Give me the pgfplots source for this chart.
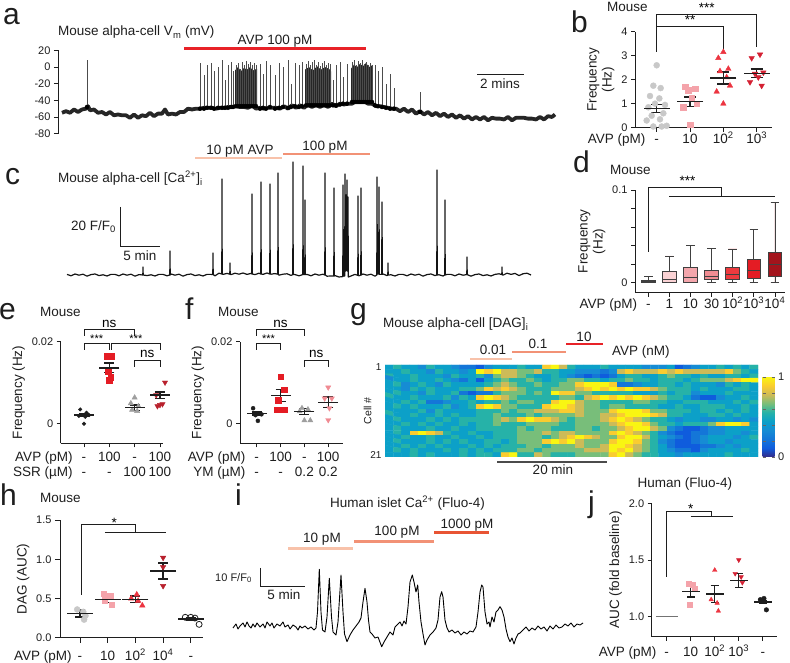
\documentclass[border=0pt]{standalone}
\usepackage{fontspec}
\setmainfont{Liberation Sans}
\usepackage{pgfplots}
\pgfplotsset{compat=1.18}
\usepgfplotslibrary{statistics}
\usetikzlibrary{calc}

\definecolor{ink}{HTML}{1E1E1E}
\definecolor{cgrey}{HTML}{C8C8C8}
\definecolor{cgreyd}{HTML}{9E9E9E}
\definecolor{cpink}{HTML}{F4A3AA}
\definecolor{cred}{HTML}{EC3440}
\definecolor{cdred}{HTML}{D42032}
\definecolor{cmaroon}{HTML}{B8202C}
\definecolor{clpink}{HTML}{F08A92}
\definecolor{avp}{HTML}{E82228}
\definecolor{bar1}{HTML}{F8C2AA}
\definecolor{bar2}{HTML}{F29276}
\definecolor{bar3}{HTML}{E85434}
\definecolor{bx0}{HTML}{6E6E6E}
\definecolor{bx1}{HTML}{FAD2D4}
\definecolor{bx2}{HTML}{F4A6AC}
\definecolor{bx3}{HTML}{F08C92}
\definecolor{bx4}{HTML}{EE3A3E}
\definecolor{bx5}{HTML}{E41C24}
\definecolor{bx6}{HTML}{A3141C}

\newcommand{\fT}{\fontsize{13.5}{15}\selectfont}
\newcommand{\fK}{\fontsize{11}{13}\selectfont}
\newcommand{\fS}{\fontsize{11}{13}\selectfont}
\newcommand{\fL}{\fontsize{30}{30}\selectfont}
\newcommand{\sq}[1]{\textsuperscript{#1}}

\pgfplotsset{
  every axis/.append style={/pgf/number format/assume math mode=true},
  dots/.style={scale only axis, anchor=south west, clip=false,
    axis x line*=bottom, axis y line*=left,
    axis line style={ink, line width=0.7pt},
    tick style={ink, line width=0.7pt},
    tick align=outside, major tick length=4pt, scaled y ticks=false,
    yticklabel style={font=\fK, text=ink},
    xticklabel style={font=\fT, text=ink, align=center},
    ylabel style={font=\fT, text=ink, align=center}},
  msem/.style 2 args={ink, line width=1.4pt, only marks, mark=-, mark size=#1,
    /pgfplots/error bars/y dir=both, /pgfplots/error bars/y explicit,
    /pgfplots/error bars/error mark=|,
    /pgfplots/error bars/error bar style={line width=1.4pt},
    /pgfplots/error bars/error mark options={line width=1.4pt, mark size=#2}},
  trace/.style={scale only axis, anchor=south west, clip=false, hide axis},
  spikes/.style={only marks, mark=none, /pgfplots/error bars/y dir=plus,
    /pgfplots/error bars/y explicit, /pgfplots/error bars/error mark=none,
    /pgfplots/error bars/error bar style={#1}},
}

\begin{document}
\begin{tikzpicture}
\path[use as bounding box] (0,0) rectangle (790pt,663pt);

% ---------------- a: membrane potential
\begin{axis}[scale only axis, anchor=south west, at={(58pt,529.4pt)},
  width=502pt, height=83.1pt, xmin=58, xmax=560, ymin=-80, ymax=20, clip=false,
  axis x line=none, axis y line*=left, axis line style={ink, line width=0.7pt},
  tick style={ink, line width=0.7pt}, tick align=outside, major tick length=4pt,
  ytick={-80,-60,-40,-20,0,20}, yticklabel style={font=\fK, text=ink}]
\addplot[black!85, line width=3.8pt, line join=round] coordinates {
(62,-55)(66,-53)(70,-55)(74,-51)(78,-54)(82,-51)(86,-50)(88,-47)(90,-52)(94,-51)
(98,-55)(102,-54)(106,-57)(110,-54)(114,-58)(118,-57)(122,-58)(126,-58)(130,-61)
(134,-57)(138,-61)(142,-58)(146,-59)(150,-55)(154,-59)(158,-56)(162,-56)(165,-51)
(168,-57)(172,-56)(176,-57)(180,-54)(184,-54)(188,-50)(192,-51)(196,-50)(200,-50)
(204,-49)(208,-49)(212,-49)(216,-50)(220,-49)(224,-49)(228,-48)(232,-48)(236,-47)
(240,-48)(244,-48)(248,-49)(252,-46)(256,-50)(260,-49)(264,-50)(268,-49)(272,-49)
(276,-49)(280,-50)(284,-47)(288,-50)(292,-46)(296,-49)(300,-46)(304,-49)(308,-45)
(312,-48)(316,-45)(320,-48)(324,-45)(328,-48)(332,-44)(336,-47)(340,-44)(344,-45)
(348,-44)(352,-44)(356,-41)(360,-42)(364,-41)(368,-44)(372,-44)(376,-47)(380,-47)
(384,-48)(388,-49)(392,-50)(396,-50)(400,-53)(404,-50)(408,-54)(412,-51)(416,-56)
(420,-53)(424,-57)(428,-54)(432,-58)(436,-55)(440,-59)(444,-56)(448,-60)(452,-57)
(456,-61)(460,-58)(464,-62)(468,-59)(472,-63)(476,-60)(480,-63)(484,-60)(488,-64)
(492,-61)(496,-62)(500,-62)(504,-63)(508,-60)(512,-64)(516,-61)(520,-61)(524,-61)
(528,-62)(532,-62)(536,-63)(540,-60)(544,-63)(548,-59)(552,-60)(555,-57)};
\addplot[fill=black!85, draw=none] coordinates {(235,-47)(235,-4)(238,0)(241,-5)(244,-1)(247,-3)(250,0)(253,-4)(257,-2)(257,-48)} -- cycle;
\addplot[fill=black!85, draw=none] coordinates {(305,-46)(305,-3)(309,0)(313,-4)(317,1)(321,-3)(325,0)(329,-2)(331,-5)(331,-46)} -- cycle;
\addplot[fill=black!85, draw=none] coordinates {(351,-43)(351,-2)(354,3)(357,0)(360,4)(363,1)(366,5)(369,0)(372,2)(373,-44)} -- cycle;
\addplot[spikes={black!70, line width=0.4pt}] table[x=x, y=y, y error=e] {
x y e
87 -48 56
200 -50 55
204 -50 40
207 -49 51
211 -49 54
214 -50 45
218 -49 49
222 -49 57
225 -49 34
228 -49 52
231 -48 54
233 -48 43
236 -47 49
238 -47 52
240 -47 45
242 -47 53
244 -47 50
246 -47 54
248 -47 51
250 -47 53
252 -47 49
254 -47 52
256 -47 50
260 -50 54
263 -49 41
266 -50 57
270 -48 51
275 -50 40
279 -49 54
283 -48 48
288 -49 57
291 -48 28
295 -47 52
299 -48 50
302 -47 53
306 -46 50
308 -46 53
310 -46 48
312 -46 52
314 -46 54
316 -46 49
318 -46 52
320 -46 47
322 -46 51
324 -46 53
326 -46 48
328 -46 51
330 -46 50
333 -46 31
336 -46 49
340 -45 51
343 -44 32
347 -44 48
352 -42 48
354 -42 50
356 -42 45
358 -42 49
360 -42 47
362 -42 50
364 -42 46
366 -42 48
368 -42 44
370 -42 47
372 -42 45
375 -46 48
378 -47 42
382 -48 48
386 -49 29
390 -50 42
394 -50 25
420 -54 24
};
\end{axis}

% ---------------- b
\begin{axis}[dots, at={(635pt,535.3pt)}, width=137pt, height=96pt,
  xmin=-0.65, xmax=3.46, ymin=0, ymax=4, ytick={0,1,2,3,4},
  xtick={0,1,2,3}, xticklabel style={anchor=base, yshift=-12pt},
  xticklabels={\llap{AVP (pM)\hspace{9pt}}-,10,10\sq{2},10\sq{3}},
  ylabel={Frequency\\(Hz)}]
\addplot[only marks, mark=*, mark size=3pt, cgrey] coordinates {
(0.0,2.6)(-0.1,1.75)(0.12,1.65)(-0.2,1.32)(0.08,1.22)(-0.05,1.0)(0.25,0.95)(-0.25,0.85)
(0.2,0.6)(-0.15,0.5)(0.1,0.35)(-0.3,0.3)(0.3,0.08)(-0.1,0.05)(0.15,0.05)};
\addplot[only marks, mark=square*, mark size=2.8pt, cpink] coordinates {
(0.85,1.7)(1.15,1.63)(0.95,1.55)(1.05,1.25)(1.2,1.0)(0.8,0.85)(1.0,0.12)};
\addplot[only marks, mark=triangle*, mark size=3.2pt, cred] coordinates {
(2,3.15)(1.85,2.9)(2.15,2.45)(1.9,2.35)(2.1,2.1)(2.2,1.75)(1.8,1.5)(2,1.0)};
\addplot[only marks, mark=triangle*, mark size=3.2pt, cdred, mark options={rotate=180}] coordinates {
(3.1,3.05)(2.85,2.9)(3.2,2.3)(2.95,2.25)(3.05,2.1)(2.8,1.9)(3.15,1.75)};
\addplot[msem={13pt}{6pt}] coordinates {(0,0.8) +- (0,0.17) (1,1.08) +- (0,0.2) (2,2.07) +- (0,0.25) (3,2.27) +- (0,0.17)};
\draw[ink, line width=0.8pt] (axis cs:0,3.17) |- (axis cs:3,4.72) -- (axis cs:3,3.37);
\draw[ink, line width=0.8pt] (axis cs:0,4.24) -| (axis cs:2,3.17);
\node[font=\fT, anchor=base, inner sep=0] at (axis cs:1,4.3) {**};
\node[font=\fT, anchor=base, inner sep=0] at (axis cs:1.5,4.78) {***};
\end{axis}

% ---------------- c: calcium trace (baseline with spikes)
\begin{axis}[trace, at={(60pt,378pt)}, width=480pt, height=140pt,
  xmin=60, xmax=540, ymin=-5, ymax=65]
\addplot[black!92, line width=1.2pt, line join=round] coordinates {
(67,0.3)(71,-0.4)(75,0.5)(79,-0.1)(83,0.4)(87,-0.6)(91,0.2)(95,0.5)(99,-0.3)(103,0.1)
(107,-0.5)(111,0.3)(115,0.3)(119,-0.4)(123,0.5)(127,-0.1)(131,0.4)(135,-0.6)(139,0.2)
(142.8,0)(143,4)(143.2,0)(147,-0.3)(151,0.1)(155,-0.5)(159,0.3)(163,0.3)(167,-0.4)
(169.8,0)(170,12)(170.2,0)(171,0.5)(175,-0.1)(179,0.4)(183,-0.6)(187,0.2)(191,0.5)
(195,-0.3)(199,0.1)(203,-0.5)(207,0.3)(211,0.3)(212.8,0.2)(213,11)(213.2,0.2)(215,-0.4)
(219,0.9)(221.8,0.5)(222,48)(222.2,0.5)(223,0.3)(227,0.8)(229.8,0.4)(230,6)(230.2,0.4)
(231,0.2)(235,0.9)(239,0.4)(243,1.0)(247,0.3)(251,0.8)(251.8,0.5)(252,40.5)(252.2,0.5)
(255,0.2)(259,0.9)(260.8,0.5)(261,46.5)(261.2,0.5)(263,0.3)(267,1.0)(269.8,0.5)(270,45.5)
(270.2,0.5)(271,0.4)(275,0.7)(277.8,0.4)(278,51)(278.2,0.4)(279,-0.1)(283,0.4)(287,0.6)
(291,-0.2)(292.8,0.2)(293,56.5)(293.2,0.2)(295,0.2)(299,-0.4)(302.8,0.2)(303,54.5)
(303.2,0.2)(304.8,0.2)(305,37.5)(305.2,0.2)(307,0.3)(311,-0.4)(315,0.5)(319,-0.1)
(323,0.4)(324.8,0)(325,51)(325.2,0)(327,-0.6)(331,-0.5)(333.8,-0.5)(334,43.5)(334.2,-0.5)
(335,-0.3)(339,-1.0)(342.8,-0.8)(343,45)(343.3,-0.5)(344.7,-0.5)(345,50.5)(345.3,2)
(345.7,2)(346,40)(346.3,3)(346.7,3)(347,47.5)(347.3,2)(347.7,2)(348,39)(348.3,-1)
(351,-0.5)(355,0.3)(357.8,-0.2)(358,39.5)(358.2,-0.2)(359,-0.4)(360.8,0)(361,43.5)
(361.2,0)(363,0.5)(367,-0.1)(371,0.4)(375,-0.6)(376.8,0)(377,49)(377.3,0.5)(378.7,0.5)
(379,44)(379.3,0.3)(381.7,0.3)(382,36.5)(382.3,0.3)(383,0.5)(387,-0.3)(387.8,0)(388,6)
(388.2,0)(391,0.1)(395,-0.5)(399,0.3)(403,0.3)(407,-0.4)(411,0.5)(415,-0.1)(419,0.4)
(423,-0.6)(427,0.2)(431,0.5)(435,-0.3)(436.8,0)(437,52.5)(437.2,0)(439,0.1)(443,-0.5)
(444.8,0)(445,37.5)(445.2,0)(447,0.3)(451,0.3)(455,-0.4)(459,0.5)(463,-0.1)(466.8,0.2)
(467,9)(467.2,0.2)(471,-0.6)(475,0.2)(479,0.5)(483,-0.3)(487,0.1)(491,-0.5)(495,0.3)
(499,0.6)(501.8,0.2)(502,4)(502.2,0.2)(503,-0.1)(507,0.9)(511,0.3)(515,0.8)(519,-0.3)
(523,0.6)(527,0.9)(531,0)};
\end{axis}

% ---------------- d: box plots (values in units of 0.01 Hz)
\begin{axis}[dots, at={(635pt,370.3pt)}, width=150pt, height=102.7pt,
  xmin=-0.63, xmax=6.48, ymin=-1.1, ymax=10,
  ytick={0,2,4,6,8,10}, yticklabels={0,,,,,0.1},
  xtick={0,1,2,3,4,5,6}, xticklabel style={anchor=base, yshift=-12pt},
  xticklabels={\llap{AVP (pM)\hspace{9pt}}-,1,10,30,10\sq{2},10\sq{3},10\sq{4}},
  ylabel={Frequency\\(Hz)},
  boxplot/draw direction=y, boxplot/box extend=0.65, boxplot/whisker extend=0.4]
\addplot[draw=black!75, line width=0.7pt, fill=bx0, boxplot prepared={draw position=0,
  lower whisker=0, lower quartile=0, median=0.1, upper quartile=0.2, upper whisker=0.65}] coordinates {};
\addplot[draw=black!75, line width=0.7pt, fill=bx1, boxplot prepared={draw position=1,
  lower whisker=0, lower quartile=0, median=0.3, upper quartile=1.19, upper whisker=2.88}] coordinates {};
\addplot[draw=black!75, line width=0.7pt, fill=bx2, boxplot prepared={draw position=2,
  lower whisker=0, lower quartile=0, median=0.54, upper quartile=1.65, upper whisker=4.0}] coordinates {};
\addplot[draw=black!75, line width=0.7pt, fill=bx3, boxplot prepared={draw position=3,
  lower whisker=0, lower quartile=0.29, median=0.68, upper quartile=1.3, upper whisker=3.7}] coordinates {};
\addplot[draw=black!75, line width=0.7pt, fill=bx4, boxplot prepared={draw position=4,
  lower whisker=0, lower quartile=0.29, median=0.83, upper quartile=1.62, upper whisker=3.63}] coordinates {};
\addplot[draw=black!75, line width=0.7pt, fill=bx5, boxplot prepared={draw position=5,
  lower whisker=0, lower quartile=0.4, median=1.3, upper quartile=2.45, upper whisker=5.76}] coordinates {};
\addplot[draw=black!75, line width=0.7pt, fill=bx6, boxplot prepared={draw position=6,
  lower whisker=0, lower quartile=0.72, median=2.0, upper quartile=3.24, upper whisker=8.63}] coordinates {};
\draw[ink, line width=0.8pt] (axis cs:0,3.34) |- (axis cs:3.45,10.32) -- (axis cs:3.45,9.28);
\draw[ink, line width=0.8pt] (axis cs:1,9.28) -- (axis cs:6,9.28);
\node[font=\fT, anchor=base, inner sep=0] at (axis cs:1.86,10.45) {***};
\end{axis}

% ---------------- e
\begin{axis}[dots, at={(60.7pt,219.7pt)}, width=102.3pt, height=101.6pt,
  xmin=-0.92, xmax=3.12, ymin=-0.0049, ymax=0.02,
  ytick={0,0.02}, yticklabels={0,0.02}, xtick={0,1,2,3},
  xticklabel style={anchor=north},
  xticklabels={{\strut\llap{AVP (pM)\hspace{9pt}}-\\\strut\llap{SSR (µM)\hspace{9pt}}-},{\strut 100\\\strut-},{\strut-\\\strut 100},{\strut 100\\\strut 100}},
  ylabel={Frequency (Hz)}]
\addplot[only marks, mark=*, mark size=1.8pt, ink] coordinates {
(-0.15,0.0034)(0.1,0.0026)(0.2,0.002)(-0.2,0.0018)(0.05,0.0016)(0,-0.0001)};
\addplot[only marks, mark=square*, mark size=2.8pt, bx5] coordinates {
(0.9,0.0165)(1.1,0.0165)(0.95,0.0127)(1.05,0.0113)(1.0,0.0105)};
\addplot[only marks, mark=triangle*, mark size=3pt, cgreyd] coordinates {
(2,0.0063)(1.85,0.0049)(2.15,0.0042)(1.9,0.0033)(2.1,0.003)};
\addplot[only marks, mark=triangle*, mark size=3pt, cmaroon, mark options={rotate=180}] coordinates {
(3.2,0.01)(2.85,0.0069)(3.1,0.0047)(2.9,0.0042)(3.0,0.0045)};
\addplot[msem={10pt}{5pt}] coordinates {(0,0.002) +- (0,0.0004) (1,0.0136) +- (0,0.0012) (2,0.0038) +- (0,0.0007) (3,0.0069) +- (0,0.0008)};
\draw[ink, line width=0.8pt] (axis cs:0,0.0214) |- (axis cs:2,0.023) -- (axis cs:2,0.0214);
\draw[ink, line width=0.8pt] (axis cs:0,0.018) |- (axis cs:1,0.0196) -- (axis cs:1,0.018);
\draw[ink, line width=0.8pt] (axis cs:1.08,0.018) |- (axis cs:3,0.0196) -- (axis cs:3,0.018);
\draw[ink, line width=0.8pt] (axis cs:2,0.0139) |- (axis cs:3,0.0155) -- (axis cs:3,0.0139);
\node[font=\fT, anchor=base, inner sep=0] at (axis cs:1,0.0236) {ns};
\node[font=\fS, anchor=base, inner sep=0] at (axis cs:0.5,0.0199) {***};
\node[font=\fS, anchor=base, inner sep=0] at (axis cs:2.05,0.0199) {***};
\node[font=\fT, anchor=base, inner sep=0] at (axis cs:2.5,0.0161) {ns};
\end{axis}

% ---------------- f
\begin{axis}[dots, at={(240pt,219.7pt)}, width=103pt, height=101.6pt,
  xmin=-0.7, xmax=3.62, ymin=-0.0049, ymax=0.02,
  ytick={0,0.02}, yticklabels={0,0.02}, xtick={0,1,2,3},
  xticklabel style={anchor=north},
  xticklabels={{\strut\llap{AVP (pM)\hspace{9pt}}-\\\strut\llap{YM (µM)\hspace{9pt}}-},{\strut 100\\\strut-},{\strut-\\\strut 0.2},{\strut 100\\\strut 0.2}},
  ylabel={Frequency (Hz)}]
\addplot[only marks, mark=*, mark size=2pt, ink] coordinates {
(-0.15,0.0037)(0.1,0.0024)(0.2,0.0022)(-0.05,0.002)(0.05,0.0006)};
\addplot[only marks, mark=square*, mark size=2.8pt, bx5] coordinates {
(1,0.0114)(1.15,0.0082)(0.9,0.0057)(0.85,0.0033)(1.15,0.0033)};
\addplot[only marks, mark=triangle*, mark size=3pt, cgreyd] coordinates {
(1.9,0.0037)(2.15,0.0034)(1.8,0.0029)(2.0,0.0007)(2.25,0.0007)};
\addplot[only marks, mark=triangle*, mark size=3pt, clpink, mark options={rotate=180}] coordinates {
(3,0.0088)(2.85,0.0061)(3.15,0.0061)(3.05,0.0037)(3.0,0.0008)};
\addplot[msem={10pt}{5pt}] coordinates {(0,0.0024) +- (0,0.0004) (1,0.0068) +- (0,0.0015) (2,0.0029) +- (0,0.0007) (3,0.0051) +- (0,0.0013)};
\draw[ink, line width=0.8pt] (axis cs:0,0.0214) |- (axis cs:2,0.023) -- (axis cs:2,0.0214);
\draw[ink, line width=0.8pt] (axis cs:0,0.018) |- (axis cs:1,0.0196) -- (axis cs:1,0.018);
\draw[ink, line width=0.8pt] (axis cs:2,0.0139) |- (axis cs:3,0.0155) -- (axis cs:3,0.0139);
\node[font=\fT, anchor=base, inner sep=0] at (axis cs:1,0.0236) {ns};
\node[font=\fS, anchor=base, inner sep=0] at (axis cs:0.5,0.0199) {***};
\node[font=\fT, anchor=base, inner sep=0] at (axis cs:2.5,0.0161) {ns};
\end{axis}

% ---------------- g: DAG heat map
\begin{axis}[scale only axis, anchor=south west, at={(385pt,206pt)}, width=373pt, height=92pt,
  xmin=-0.5, xmax=44.5, ymin=0.5, ymax=21.5, y dir=reverse, enlargelimits=false,
  axis line style={draw=none}, xtick=\empty, ytick={1,21}, major tick length=0pt,
  yticklabel style={font=\fontsize{10}{12}\selectfont, text=ink},
  ylabel={Cell \#}, ylabel style={font=\fontsize{10.5}{12}\selectfont, text=ink, at={(axis description cs:-0.027,0.5)}, anchor=south},
  colormap={parulaish}{rgb255(0cm)=(53,42,135) rgb255(1cm)=(15,92,221) rgb255(2cm)=(20,118,216) rgb255(3cm)=(22,140,212) rgb255(4cm)=(12,160,200) rgb255(5cm)=(38,178,168) rgb255(6cm)=(120,190,122) rgb255(7cm)=(205,187,88) rgb255(8cm)=(250,204,48) rgb255(9cm)=(249,245,18)},
  point meta min=0, point meta max=9,
  colorbar, colorbar style={at={($(parent axis.north east)+(-4pt,-12pt)$)}, anchor=north west,
    width=12pt, height=80pt, ytick={0,1.8,3.6,5.4,7.2,9}, yticklabels={0,,,,,1},
    yticklabel style={font=\fK, text=ink}, axis line style={draw=none},
    major tick length=3pt, tick style={black!60}}]
\addplot[matrix plot*, mesh/cols=45, mesh/rows=21, point meta=explicit]
  table[header=false, row sep=\\, x expr={mod(\coordindex,45)}, y expr={floor(\coordindex/45)+1}, meta index=0] {
4\\5\\4\\4\\3\\5\\4\\4\\3\\2\\2\\1\\3\\4\\4\\4\\5\\4\\4\\8\\9\\7\\5\\4\\4\\4\\5\\4\\4\\4\\4\\3\\3\\3\\4\\1\\2\\3\\4\\4\\5\\4\\5\\4\\5\\
4\\4\\5\\4\\4\\3\\5\\4\\4\\3\\4\\9\\8\\9\\7\\7\\6\\6\\7\\5\\5\\4\\4\\3\\3\\3\\2\\3\\7\\8\\7\\7\\7\\8\\7\\8\\7\\7\\7\\7\\7\\8\\6\\5\\4\\
5\\4\\4\\5\\4\\4\\4\\3\\5\\4\\4\\5\\3\\6\\7\\7\\6\\5\\4\\4\\5\\4\\3\\2\\1\\2\\1\\2\\4\\5\\5\\4\\4\\5\\6\\5\\5\\4\\5\\4\\4\\5\\5\\4\\5\\
3\\4\\4\\5\\4\\4\\5\\4\\3\\2\\4\\1\\4\\5\\6\\5\\5\\6\\5\\4\\5\\5\\6\\6\\5\\5\\4\\5\\5\\6\\5\\5\\4\\5\\5\\5\\4\\5\\6\\6\\6\\7\\8\\9\\9\\
4\\5\\3\\4\\5\\4\\3\\5\\4\\4\\4\\4\\5\\6\\7\\6\\5\\5\\6\\5\\5\\6\\6\\8\\9\\9\\9\\8\\2\\2\\3\\4\\4\\5\\5\\4\\5\\4\\4\\4\\3\\5\\4\\5\\4\\
4\\4\\3\\5\\4\\5\\4\\4\\4\\5\\5\\6\\8\\7\\8\\7\\6\\5\\5\\5\\6\\6\\6\\7\\8\\9\\8\\9\\8\\9\\8\\8\\7\\6\\5\\5\\5\\4\\5\\4\\4\\4\\5\\5\\4\\
4\\5\\4\\4\\3\\5\\4\\4\\5\\2\\1\\2\\2\\5\\6\\6\\6\\5\\6\\5\\9\\8\\8\\6\\6\\5\\5\\5\\5\\5\\4\\4\\4\\5\\4\\5\\5\\3\\4\\4\\4\\5\\4\\4\\4\\
5\\4\\4\\5\\4\\4\\4\\5\\3\\5\\4\\8\\9\\8\\7\\6\\5\\5\\5\\5\\5\\6\\6\\5\\7\\8\\9\\8\\9\\8\\9\\8\\7\\6\\5\\5\\4\\2\\1\\1\\3\\4\\4\\5\\4\\
4\\4\\5\\4\\5\\2\\2\\3\\4\\4\\5\\4\\5\\5\\6\\5\\6\\6\\5\\5\\8\\9\\9\\7\\6\\6\\5\\5\\5\\5\\6\\6\\5\\5\\4\\4\\5\\5\\5\\4\\4\\4\\5\\4\\5\\
4\\5\\4\\5\\4\\4\\4\\5\\3\\4\\5\\8\\9\\8\\6\\6\\5\\5\\5\\8\\9\\9\\8\\7\\6\\6\\5\\6\\6\\5\\5\\5\\5\\4\\4\\5\\4\\4\\5\\5\\5\\4\\4\\5\\4\\
4\\4\\4\\4\\5\\3\\5\\4\\4\\4\\4\\5\\5\\5\\6\\5\\6\\6\\7\\7\\7\\8\\8\\7\\6\\6\\6\\8\\9\\9\\9\\8\\6\\6\\5\\5\\5\\4\\5\\5\\4\\5\\4\\5\\4\\
5\\4\\4\\5\\4\\4\\5\\4\\5\\4\\4\\5\\5\\6\\5\\5\\5\\6\\5\\6\\6\\6\\6\\7\\6\\6\\7\\7\\8\\9\\9\\9\\8\\7\\5\\5\\4\\4\\4\\5\\5\\4\\5\\4\\4\\
4\\5\\4\\4\\4\\5\\4\\5\\4\\5\\5\\5\\5\\6\\7\\6\\8\\9\\8\\8\\7\\6\\5\\6\\6\\6\\7\\8\\9\\8\\7\\6\\5\\5\\4\\3\\4\\4\\3\\3\\4\\4\\3\\4\\3\\
4\\4\\5\\4\\5\\4\\5\\4\\4\\5\\4\\5\\5\\6\\5\\5\\5\\6\\6\\6\\6\\5\\5\\6\\6\\6\\6\\7\\8\\9\\9\\8\\6\\5\\5\\4\\5\\5\\5\\6\\8\\9\\9\\8\\4\\
4\\5\\4\\4\\4\\5\\4\\4\\5\\4\\4\\5\\5\\5\\5\\5\\6\\5\\6\\6\\5\\5\\5\\6\\6\\5\\6\\6\\7\\8\\9\\9\\7\\6\\3\\2\\1\\1\\2\\3\\3\\4\\4\\4\\4\\
4\\5\\4\\8\\9\\8\\7\\5\\4\\4\\5\\4\\4\\5\\5\\5\\6\\6\\6\\7\\6\\7\\7\\6\\6\\6\\6\\8\\9\\8\\7\\6\\5\\3\\2\\1\\1\\2\\2\\3\\3\\4\\4\\3\\4\\
4\\4\\5\\4\\4\\5\\4\\4\\5\\4\\4\\5\\4\\5\\5\\5\\6\\6\\6\\5\\6\\7\\8\\9\\8\\7\\6\\6\\8\\9\\9\\7\\5\\4\\3\\2\\1\\2\\3\\4\\4\\4\\3\\4\\5\\
4\\5\\4\\4\\4\\5\\4\\5\\4\\5\\4\\4\\5\\5\\4\\5\\6\\6\\6\\8\\9\\8\\9\\7\\6\\6\\6\\8\\9\\9\\8\\6\\5\\3\\2\\1\\1\\2\\3\\4\\4\\3\\4\\4\\4\\
4\\4\\5\\4\\5\\4\\5\\4\\4\\4\\5\\4\\5\\4\\5\\5\\5\\6\\6\\5\\6\\6\\6\\7\\6\\6\\7\\9\\9\\8\\7\\6\\5\\4\\2\\1\\1\\1\\2\\2\\3\\4\\3\\4\\4\\
4\\5\\4\\5\\4\\4\\4\\5\\4\\5\\4\\5\\4\\5\\5\\5\\6\\6\\5\\6\\6\\6\\6\\6\\7\\7\\7\\9\\8\\9\\7\\6\\5\\4\\3\\2\\2\\1\\3\\4\\4\\4\\4\\5\\4\\
4\\4\\4\\5\\4\\5\\4\\4\\4\\5\\4\\5\\5\\4\\8\\9\\5\\5\\7\\6\\5\\5\\5\\6\\6\\6\\6\\8\\9\\7\\6\\5\\5\\4\\4\\3\\4\\4\\4\\4\\4\\5\\4\\4\\4\\
};
\end{axis}

% ---------------- h
\begin{axis}[dots, at={(60pt,25.3pt)}, width=143pt, height=117.7pt,
  xmin=-0.72, xmax=4.44, ymin=0, ymax=1.5, ytick={0,0.5,1,1.5},
  yticklabel style={/pgf/number format/.cd, fixed, fixed zerofill, precision=1},
  xtick={0,1,2,3,4}, major tick length=5pt, xticklabel style={anchor=base, yshift=-18pt},
  xticklabels={\llap{AVP (pM)\hspace{6pt}}-,10,10\sq{2},10\sq{4},-},
  ylabel={DAG (AUC)}]
\addplot[only marks, mark=*, mark size=3pt, cgrey] coordinates {(-0.1,0.36)(0.12,0.33)(0.2,0.28)(0.15,0.23)};
\addplot[only marks, mark=square*, mark size=2.8pt, cpink] coordinates {(0.85,0.56)(1.1,0.53)(0.9,0.48)(1.15,0.42)};
\addplot[only marks, mark=triangle*, mark size=3.2pt, cred] coordinates {(2.05,0.55)(1.85,0.5)(2.1,0.47)(2.25,0.41)};
\addplot[only marks, mark=triangle*, mark size=3.2pt, cmaroon, mark options={rotate=180}] coordinates {(3,1.02)(3,0.9)(3,0.66)};
\addplot[only marks, mark=o, mark size=3pt, ink, line width=0.8pt] coordinates {(3.8,0.26)(4.0,0.26)(4.15,0.25)(4.3,0.17)};
\addplot[msem={13pt}{5pt}] coordinates {(0,0.31) +- (0,0.045) (1,0.49) +- (0,0.04) (2,0.49) +- (0,0.04) (3,0.85) +- (0,0.1) (4,0.24) +- (0,0.02)};
\draw[ink, line width=0.8pt] (axis cs:0.06,0.55) |- (axis cs:2,1.44) -- (axis cs:2,1.34);
\draw[ink, line width=0.8pt] (axis cs:0.9,1.34) -- (axis cs:3.1,1.34);
\node[font=\fT, anchor=base, inner sep=0] at (axis cs:1.24,1.40) {*};
\end{axis}

% ---------------- i: human islet trace
\begin{axis}[trace, at={(230pt,11pt)}, width=360pt, height=160pt,
  xmin=230, xmax=590, ymin=-20, ymax=140]
\addplot[black, line width=0.9pt, line join=round] coordinates {
(233,4)(236,8)(238,3)(240,6)(243,9)(245,5)(247,10)(249,6)(251,4)(253,8)(255,5)(257,9)
(260,5)(263,8)(265,4)(267,10)(270,6)(272,9)(274,4)(277,8)(280,6)(283,10)(285,5)(288,7)
(290,3)(293,7)(296,5)(298,2)(300,6)(302,4)(305,6)(308,3)(311,5)(314,2)(316,4)(317.5,20)
(319.3,62.7)(321,20)(322.5,2)(325,0)(327,15)(329.3,53.7)(331.5,15)(333,0)(336,-3)(338,10)
(341,57)(343,20)(344.5,-2)(347,-9.7)(350,-3)(353,2)(356,6)(359,10)(361,14)(363,30)
(365,43.7)(367,30)(368.5,12)(370,0)(372,-2)(375,-6)(378,-5)(381.7,-14.7)(384,-10)(387,-5)
(390,0)(393,-3)(395,5)(398,8)(400,10)(402,6)(404,11)(406,8)(408,25)(410,50)(412.3,57)
(414,50)(416,40)(417.7,47)(419,30)(421,10)(423,-2)(425,-13)(427,-8)(430,-3)(433,0)(436,4)
(438,12)(440,35)(441.7,40.3)(443,35)(445,12)(447,4)(449,0)(452,2)(455,-1)(458,1)(461,-3)
(464,0)(467,-2)(470,1)(473,0)(476,5)(478,20)(480,40)(481.7,47)(483,45)(485,20)(487,8)
(489,10)(490,5)(492,15)(494,10)(496,20)(498,22)(500,25.3)(502,22)(504,15)(506,3)(508,-5)
(510,-9.7)(512,-6)(514,-12)(516,-6)(518,-2)(520,-1)(523,2)(526,5)(529,1)(532,4)(535,2)
(538,6)(541,3)(544,5)(547,1)(550,6)(553,3)(556,7)(559,4)(562,5)(565,8)(568,6)(571,9)
(574,5)(577,8)(580,7)(583,9)};
\end{axis}

% ---------------- j
\begin{axis}[dots, at={(651.7pt,26.3pt)}, width=125pt, height=133.4pt,
  xmin=-0.625, xmax=4.58, ymin=0.823, ymax=2.0, ytick={1,1.5,2},
  yticklabel style={/pgf/number format/.cd, fixed, fixed zerofill, precision=1},
  xtick={0,1,2,3,4}, xticklabel style={anchor=base, yshift=-16pt},
  xticklabels={\llap{AVP (pM)\hspace{8pt}}-,10,10\sq{2},10\sq{3},-},
  ylabel={AUC (fold baseline)}]
\addplot[only marks, mark=square*, mark size=2.5pt, cpink] coordinates {(0.9,1.294)(1.1,1.28)(1.15,1.25)(0.95,1.103)};
\addplot[only marks, mark=triangle*, mark size=2.6pt, cred] coordinates {(2.0,1.41)(1.85,1.15)(2.1,1.12)(2.15,1.05)};
\addplot[only marks, mark=triangle*, mark size=2.6pt, cdred, mark options={rotate=180}] coordinates {(3,1.5)(2.85,1.38)(3.1,1.35)(3.15,1.3)};
\addplot[only marks, mark=*, mark size=2.3pt, ink] coordinates {(3.9,1.15)(4.05,1.16)(4.15,1.06)};
\addplot[only marks, mark=-, mark size=11pt, black!55, line width=1.2pt] coordinates {(0,1.0)};
\addplot[msem={9pt}{4pt}] coordinates {(1,1.22) +- (0,0.045) (2,1.2) +- (0,0.075) (3,1.318) +- (0,0.06) (4,1.13) +- (0,0.012)};
\draw[ink, line width=0.8pt] (axis cs:0,1.35) |- (axis cs:1.87,1.93) -- (axis cs:1.87,1.88);
\draw[ink, line width=0.8pt] (axis cs:1,1.88) -- (axis cs:2.75,1.88);
\node[font=\fT, anchor=base, inner sep=0] at (axis cs:1,1.91) {*};
\end{axis}

% ---------------- annotations in image pixel coordinates
\begin{scope}[shift={(0pt,663pt)}, x=1pt, y=-1pt]
\tikzset{lab/.style={font=\fL, anchor=base west, inner sep=0, text=ink},
         txt/.style={font=\fT, inner sep=0, text=ink}}
\node[lab] at (3,25) {a};
\node[lab] at (571,33) {b};
\node[lab] at (5,185) {c};
\node[lab] at (573,173) {d};
\node[lab] at (-1,320) {e};
\node[lab] at (185,320) {f};
\node[lab] at (350,320) {g};
\node[lab] at (0,506) {h};
\node[lab] at (235,506) {i};
\node[lab] at (588,513) {j};
% a
\node[txt, anchor=base west] at (58,36) {Mouse alpha-cell V\textsubscript{m} (mV)};
\draw[avp, line width=2.5pt] (184,48.3) -- (366,48.3);
\node[txt, anchor=base] at (275,45) {AVP 100 pM};
\draw[ink, line width=1pt] (477,75) -- (524,75);
\node[txt, anchor=base] at (500,89) {2 mins};
% b
\node[txt, anchor=base west] at (607,12) {Mouse};
% c
\node[txt, anchor=base west] at (58,183) {Mouse alpha-cell [Ca\textsuperscript{2+}]\textsubscript{i}};
\draw[bar1, line width=2.5pt] (195,158) -- (282,158);
\draw[bar2, line width=2.5pt] (283,154) -- (370,154);
\node[txt, anchor=base] at (240,155) {10 pM AVP};
\node[txt, anchor=base] at (325,151) {100 pM};
\draw[ink, line width=1pt] (120,207) -- (120,247) -- (160,247);
\node[txt, anchor=east] at (116,227) {20 F/F\textsubscript{0}};
\node[txt, anchor=base] at (140,261) {5 min};
% d
\node[txt, anchor=base west] at (610,175) {Mouse};
% e, f
\node[txt, anchor=base west] at (40,317) {Mouse};
\node[txt, anchor=base west] at (218,317) {Mouse};
% g
\node[txt, anchor=base west] at (383,328) {Mouse alpha-cell [DAG]\textsubscript{i}};
\draw[bar1, line width=2pt] (470,359) -- (512,359);
\draw[bar2, line width=2pt] (512,352) -- (566,352);
\draw[avp, line width=2pt] (566,344) -- (603,344);
\node[txt, anchor=base] at (493,355) {0.01};
\node[txt, anchor=base] at (538,349) {0.1};
\node[txt, anchor=base] at (584,342) {10};
\node[txt, anchor=base west] at (612,356) {AVP (nM)};
\draw[ink!80, line width=1.1pt] (497,462) -- (607,462);
\node[txt, anchor=base] at (553,475) {20 min};
% h
\node[txt, anchor=base west] at (40,503) {Mouse};
% i
\node[txt, anchor=base west] at (330,508) {Human islet Ca\textsuperscript{2+} (Fluo-4)};
\draw[bar1, line width=3pt] (288,549) -- (353,549);
\draw[bar2, line width=3pt] (354,542) -- (434,542);
\draw[bar3, line width=3pt] (434,533) -- (489,533);
\node[txt, anchor=base] at (322,543) {10 pM};
\node[txt, anchor=base] at (397,536) {100 pM};
\node[txt, anchor=base] at (467,529) {1000 pM};
\draw[ink, line width=1pt] (260,568) -- (260,587) -- (305,587);
\node[txt, font=\fK, anchor=east] at (252,578) {10 F/F\textsubscript{0}};
\node[txt, anchor=base] at (284,600) {5 min};
% j
\node[txt, anchor=base] at (685,488) {Human (Fluo-4)};
\end{scope}
\end{tikzpicture}
\end{document}
